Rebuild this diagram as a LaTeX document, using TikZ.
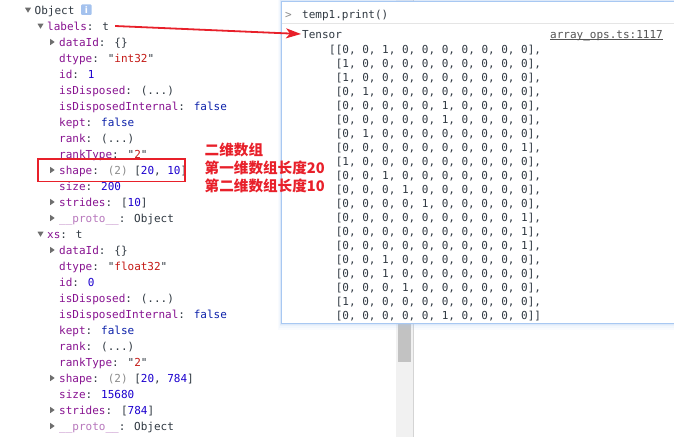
\documentclass[tikz,border=0pt]{standalone}
\usepackage{fontspec}
\newfontfamily\cf{DejaVu Sans Mono}
\newfontfamily\dvs{DejaVu Sans}
\newfontfamily\cjk{Noto Sans CJK SC}
\usetikzlibrary{arrows.meta}
\definecolor{keyc}{HTML}{881391}
\definecolor{protoc}{HTML}{B878BD}
\definecolor{strc}{HTML}{C41A16}
\definecolor{numc}{HTML}{1C00CF}
\definecolor{boolc}{HTML}{0D22AA}
\definecolor{txtc}{HTML}{303942}
\definecolor{grayc}{HTML}{8C8C8C}
\definecolor{annot}{HTML}{E8202A}
\definecolor{popb}{HTML}{A8C8F2}
\definecolor{tric}{HTML}{6E6E6E}
\definecolor{infoc}{HTML}{A4C2EE}
\definecolor{linkc}{HTML}{545454}
\newcommand{\K}[1]{\textcolor{keyc}{#1}}
\newcommand{\PK}[1]{\textcolor{protoc}{#1}}
\newcommand{\Sv}[1]{"\textcolor{strc}{#1}"}
\newcommand{\N}[1]{\textcolor{numc}{#1}}
\newcommand{\B}[1]{\textcolor{boolc}{#1}}
\newcommand{\G}[1]{\textcolor{grayc}{#1}}
\newcommand{\tdown}[2]{\fill[tric] (#1-3,#2-2.3) -- (#1+3,#2-2.3) -- (#1,#2+2.7) -- cycle;}
\newcommand{\tright}[2]{\fill[tric] (#1-2.2,#2-3.2) -- (#1-2.2,#2+3.2) -- (#1+2.4,#2) -- cycle;}
\tikzset{
  row/.style={anchor=west, inner sep=0pt, font=\cf\fontsize{11}{13}\selectfont, text=txtc, text height=8pt, text depth=0pt},
  cjkrow/.style={anchor=west, inner sep=0pt, font=\cjk\bfseries\fontsize{14.6}{16}\selectfont, text=annot, text height=11pt, text depth=0pt},
  redline/.style={annot, line width=1.8pt},
}
\begin{document}
\begin{tikzpicture}[x=1pt,y=-1pt]
\useasboundingbox (0,0) rectangle (674,437);
\fill[white] (0,0) rectangle (674,437);
% ---------- left panel ----------
\tdown{28}{10}
\node[row] (obj) at (34.5,10) {Object};
\node[fill=infoc, rounded corners=1pt, minimum width=10.5pt, minimum height=10.5pt, inner sep=0pt, text=white, font=\dvs\bfseries\fontsize{9}{9}\selectfont] (info) at (86.3,9.7) {i};
\tdown{40.5}{26}
\node[row] (lab) at (47,26) {\K{labels}: t};
\tright{52.3}{42}
\node[row] (l2) at (59,42) {\K{dataId}: \{\}};
\node[row] (l3) at (59,58) {\K{dtype}: \Sv{int32}};
\node[row] (l4) at (59,74) {\K{id}: \N{1}};
\node[row] (l5) at (59,90) {\K{isDisposed}: (...)};
\node[row] (l6) at (59,106) {\K{isDisposedInternal}: \B{false}};
\node[row] (l7) at (59,122) {\K{kept}: \B{false}};
\node[row] (l8) at (59,138) {\K{rank}: (...)};
\node[row] (l9) at (59,154) {\K{rankType}: \Sv{2}};
\tright{52.3}{170}
\node[row] (l10) at (59,170) {\K{shape}: \G{(2)} [\N{20}, \N{10}]};
\node[row] (l11) at (59,186) {\K{size}: \N{200}};
\tright{52.3}{202}
\node[row] (l12) at (59,202) {\K{strides}: [\N{10}]};
\tright{52.3}{218}
\node[row] (l13) at (59,218) {\PK{\_\_proto\_\_}: Object};
\tdown{40.5}{234}
\node[row] (xs) at (47,234) {\K{xs}: t};
\tright{52.3}{250}
\node[row] (m2) at (59,250) {\K{dataId}: \{\}};
\node[row] (m3) at (59,266) {\K{dtype}: \Sv{float32}};
\node[row] (m4) at (59,282) {\K{id}: \N{0}};
\node[row] (m5) at (59,298) {\K{isDisposed}: (...)};
\node[row] (m6) at (59,314) {\K{isDisposedInternal}: \B{false}};
\node[row] (m7) at (59,330) {\K{kept}: \B{false}};
\node[row] (m8) at (59,346) {\K{rank}: (...)};
\node[row] (m9) at (59,362) {\K{rankType}: \Sv{2}};
\tright{52.3}{378}
\node[row] (m10) at (59,378) {\K{shape}: \G{(2)} [\N{20}, \N{784}]};
\node[row] (m11) at (59,394) {\K{size}: \N{15680}};
\tright{52.3}{410}
\node[row] (m12) at (59,410) {\K{strides}: [\N{784}]};
\tright{52.3}{426}
\node[row] (m13) at (59,426) {\PK{\_\_proto\_\_}: Object};
% ---------- scrollbar ----------
\fill[black!5.5] (396,0) rectangle (413,437);
\draw[black!17] (413.2,0) -- (413.2,437);
\fill[black!24] (397.8,323) rectangle (411,362);
% ---------- popup ----------
\foreach \d/\o in {7/0.06,5/0.08,3/0.12,1.5/0.18}{
  \fill[popb, opacity=\o] (281-\d*0.5,0) rectangle (680,323+\d);
}
\filldraw[fill=white, draw=popb, line width=1pt] (281,1) rectangle (680,323);
\draw[black!10] (281.5,23.5) -- (680,23.5);
\node[row, text=black!45] (prompt) at (285,14.5) {>};
\node[row] (cmd) at (302,14.5) {temp1.print()};
\node[row] (tensor) at (302,34) {Tensor};
\node[row, anchor=east, text=linkc] (ops) at (663,34) {array\_ops.ts:1117};
\draw[linkc, line width=0.7pt] ([yshift=-5.5pt]ops.west) -- ([yshift=-5.5pt]ops.east);
\node[row] (r1) at (329,49.3) {[[0, 0, 1, 0, 0, 0, 0, 0, 0, 0],};
\node[row] (r2) at (335.6,63.3) {[1, 0, 0, 0, 0, 0, 0, 0, 0, 0],};
\node[row] (r3) at (335.6,77.3) {[1, 0, 0, 0, 0, 0, 0, 0, 0, 0],};
\node[row] (r4) at (335.6,91.3) {[0, 1, 0, 0, 0, 0, 0, 0, 0, 0],};
\node[row] (r5) at (335.6,105.3) {[0, 0, 0, 0, 0, 1, 0, 0, 0, 0],};
\node[row] (r6) at (335.6,119.3) {[0, 0, 0, 0, 0, 1, 0, 0, 0, 0],};
\node[row] (r7) at (335.6,133.3) {[0, 1, 0, 0, 0, 0, 0, 0, 0, 0],};
\node[row] (r8) at (335.6,147.3) {[0, 0, 0, 0, 0, 0, 0, 0, 0, 1],};
\node[row] (r9) at (335.6,161.3) {[1, 0, 0, 0, 0, 0, 0, 0, 0, 0],};
\node[row] (r10) at (335.6,175.3) {[0, 0, 1, 0, 0, 0, 0, 0, 0, 0],};
\node[row] (r11) at (335.6,189.3) {[0, 0, 0, 1, 0, 0, 0, 0, 0, 0],};
\node[row] (r12) at (335.6,203.3) {[0, 0, 0, 0, 1, 0, 0, 0, 0, 0],};
\node[row] (r13) at (335.6,217.3) {[0, 0, 0, 0, 0, 0, 0, 0, 0, 1],};
\node[row] (r14) at (335.6,231.3) {[0, 0, 0, 0, 0, 0, 0, 0, 0, 1],};
\node[row] (r15) at (335.6,245.3) {[0, 0, 0, 0, 0, 0, 0, 0, 0, 1],};
\node[row] (r16) at (335.6,259.3) {[0, 0, 1, 0, 0, 0, 0, 0, 0, 0],};
\node[row] (r17) at (335.6,273.3) {[0, 0, 1, 0, 0, 0, 0, 0, 0, 0],};
\node[row] (r18) at (335.6,287.3) {[0, 0, 0, 1, 0, 0, 0, 0, 0, 0],};
\node[row] (r19) at (335.6,301.3) {[1, 0, 0, 0, 0, 0, 0, 0, 0, 0],};
\node[row] (r20) at (335.6,315.3) {[0, 0, 0, 0, 0, 1, 0, 0, 0, 0]]};
% ---------- annotations ----------
\node[draw=annot, line width=1.6pt, inner sep=0pt, minimum width=147pt, minimum height=22.5pt, anchor=north west] (box) at (37.3,158.3) {};
\node[cjkrow] (c1) at (204.5,150) {二维数组};
\node[cjkrow] (c2) at (204.5,168) {第一维数组长度20};
\node[cjkrow] (c3) at (204.5,186) {第二维数组长度10};
\draw[redline, -{Stealth[length=15pt, width=10pt, inset=4pt]}] ([xshift=6pt]lab.east) -- ([xshift=-1pt]tensor.west);
\end{tikzpicture}
\end{document}
